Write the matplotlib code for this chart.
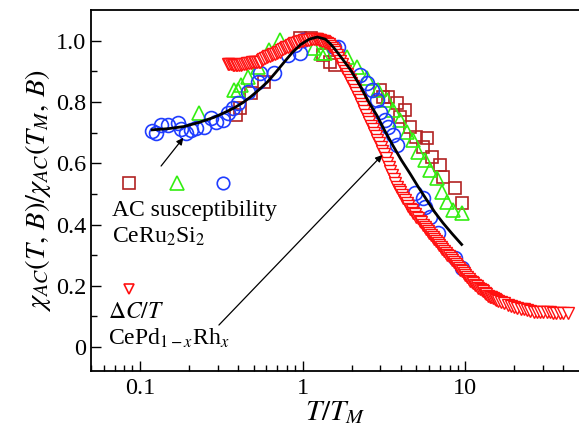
import numpy as np
import matplotlib
matplotlib.use("Agg")
import matplotlib.pyplot as plt
from matplotlib.ticker import FixedLocator, NullFormatter

plt.rcParams['font.family'] = ['Liberation Serif', 'DejaVu Serif']
plt.rcParams['mathtext.fontset'] = 'stix'

# CeRu2Si2, AC susceptibility (three fields)
sq_x = [0.39, 0.41, 0.48, 0.58, 0.97, 1.12, 1.33, 1.48, 1.59, 3.0, 3.13, 3.36,
        3.81, 3.97, 4.27, 4.58, 5.0, 5.5, 5.8, 6.2, 7.0, 7.3, 8.6, 9.6]
sq_y = [0.758, 0.78, 0.83, 0.866, 1.01, 1.01, 0.954, 0.93, 0.92, 0.84, 0.817, 0.817,
        0.797, 0.752, 0.775, 0.719, 0.686, 0.654, 0.683, 0.62, 0.595, 0.556, 0.52, 0.47]

tri_x = [0.23, 0.378, 0.40, 0.42, 0.46, 0.53, 0.62, 0.73, 1.17, 1.29, 1.38, 1.88,
         2.17, 2.5, 2.92, 3.3, 3.6, 3.97, 4.4, 4.77, 5.1, 5.65, 6.06, 6.7,
         7.2, 7.7, 8.4, 9.6]
tri_y = [0.765, 0.84, 0.84, 0.856, 0.88, 0.915, 0.97, 1.003, 0.977, 0.96, 0.96, 0.948,
         0.915, 0.879, 0.84, 0.807, 0.775, 0.742, 0.703, 0.676, 0.637, 0.61, 0.578, 0.552,
         0.507, 0.474, 0.448, 0.438]

circ_x = [0.118, 0.126, 0.135, 0.149, 0.172, 0.180, 0.193, 0.206, 0.222, 0.248,
          0.274, 0.294, 0.324, 0.348, 0.373, 0.40, 0.46, 0.53, 0.55, 0.665, 0.81,
          0.90, 0.97, 1.01, 1.55, 1.64, 2.26, 2.5, 2.68, 2.87, 3.0, 3.22, 3.36,
          3.6, 3.81, 4.9, 5.5, 5.65, 6.06, 6.8, 8.6, 9.5]
circ_y = [0.706, 0.70, 0.725, 0.725, 0.732, 0.712, 0.70, 0.709, 0.716, 0.719,
          0.748, 0.735, 0.742, 0.765, 0.781, 0.797, 0.833, 0.866, 0.895, 0.895, 0.954,
          0.987, 0.96, 1.003, 0.98, 0.98, 0.889, 0.863, 0.84, 0.807, 0.768, 0.742, 0.719,
          0.693, 0.66, 0.503, 0.487, 0.458, 0.425, 0.372, 0.29, 0.258]

# CePd1-xRhx, specific heat
dc_x = [0.347, 0.355, 0.363, 0.372, 0.380, 0.389, 0.398, 0.407, 0.417, 0.427,
        0.437, 0.447, 0.457, 0.468, 0.479, 0.490, 0.501, 0.513, 0.525, 0.537,
        0.550, 0.562, 0.575, 0.589, 0.603, 0.617, 0.631, 0.646, 0.661, 0.676,
        0.692, 0.708, 0.724, 0.741, 0.759, 0.776, 0.794, 0.813, 0.832, 0.851,
        0.871, 0.891, 0.912, 0.933, 0.955, 0.977, 1.000, 1.023, 1.047, 1.072,
        1.096, 1.122, 1.148, 1.175, 1.202, 1.230, 1.259, 1.288, 1.318, 1.349,
        1.380, 1.413, 1.445, 1.479, 1.514, 1.549, 1.585, 1.622, 1.660, 1.698,
        1.738, 1.778, 1.820, 1.862, 1.905, 1.950, 1.995, 2.042, 2.089, 2.138,
        2.188, 2.239, 2.291, 2.344, 2.399, 2.455, 2.512, 2.570, 2.630, 2.692,
        2.754, 2.818, 2.884, 2.951, 3.020, 3.090, 3.162, 3.236, 3.311, 3.388,
        3.467, 3.548, 3.631, 3.715, 3.802, 3.890, 3.981, 4.074, 4.169, 4.266,
        4.365, 4.467, 4.571, 4.677, 4.786, 4.898, 5.012, 5.129, 5.248, 5.370,
        5.495, 5.623, 5.754, 5.888, 6.026, 6.166, 6.310, 6.457, 6.607, 6.761,
        6.918, 7.079, 7.244, 7.413, 7.586, 7.762, 7.943, 8.128, 8.318, 8.511,
        8.710, 8.913, 9.120, 9.333, 9.550, 9.772, 10.00, 10.23, 10.47, 10.72,
        10.96, 11.22, 11.48, 11.75, 12.02, 12.30, 12.59, 12.88, 13.18, 13.49,
        13.80, 14.13, 14.45, 14.79, 15.14, 15.49, 15.85, 16.60, 17.38, 18.20,
        19.05, 19.95, 20.89, 21.88, 22.91, 23.99, 25.12, 26.30, 27.54, 28.84,
        30.20, 31.62, 33.11, 34.67, 36.31, 38.02, 39.81, 42.66]
dc_y = [0.925, 0.924, 0.923, 0.922, 0.921, 0.920, 0.920, 0.921, 0.922, 0.923,
        0.924, 0.925, 0.926, 0.927, 0.928, 0.929, 0.930, 0.931, 0.931, 0.932,
        0.932, 0.936, 0.939, 0.943, 0.946, 0.949, 0.951, 0.953, 0.955, 0.958,
        0.960, 0.962, 0.964, 0.968, 0.972, 0.975, 0.978, 0.981, 0.984, 0.987,
        0.989, 0.991, 0.993, 0.995, 0.997, 0.999, 1.000, 1.001, 1.001, 1.002,
        1.003, 1.004, 1.004, 1.005, 1.005, 1.004, 1.003, 1.002, 1.000, 0.998,
        0.996, 0.992, 0.988, 0.982, 0.976, 0.969, 0.962, 0.952, 0.942, 0.933,
        0.923, 0.912, 0.902, 0.892, 0.882, 0.872, 0.862, 0.851, 0.840, 0.828,
        0.816, 0.805, 0.793, 0.782, 0.770, 0.758, 0.746, 0.734, 0.722, 0.711,
        0.699, 0.688, 0.676, 0.665, 0.653, 0.641, 0.629, 0.616, 0.602, 0.589,
        0.576, 0.562, 0.549, 0.536, 0.523, 0.514, 0.505, 0.497, 0.488, 0.479,
        0.470, 0.461, 0.452, 0.446, 0.439, 0.433, 0.426, 0.420, 0.413, 0.407,
        0.400, 0.393, 0.386, 0.380, 0.373, 0.367, 0.360, 0.354, 0.347, 0.341,
        0.334, 0.328, 0.321, 0.315, 0.308, 0.302, 0.296, 0.290, 0.284, 0.278,
        0.271, 0.265, 0.259, 0.253, 0.247, 0.241, 0.235, 0.228, 0.222, 0.217,
        0.212, 0.208, 0.203, 0.199, 0.194, 0.190, 0.186, 0.182, 0.177, 0.173,
        0.168, 0.165, 0.162, 0.160, 0.157, 0.155, 0.152, 0.147, 0.143, 0.138,
        0.134, 0.131, 0.128, 0.125, 0.123, 0.120, 0.118, 0.116, 0.115, 0.114,
        0.113, 0.113, 0.113, 0.112, 0.112, 0.112, 0.112, 0.112]

# model curve
fit_x = [0.119, 0.15, 0.187, 0.23, 0.286, 0.33, 0.378, 0.43, 0.48, 0.54, 0.61,
         0.68, 0.765, 0.86, 0.97, 1.1, 1.23, 1.38, 1.48, 1.55, 1.76, 1.97, 2.26,
         2.55, 2.87, 3.2, 3.6, 4.05, 4.58, 5.15, 5.8, 6.5, 7.3, 8.3, 9.5]
fit_y = [0.709, 0.713, 0.72, 0.733, 0.75, 0.765, 0.78, 0.798, 0.817, 0.84, 0.866,
         0.895, 0.928, 0.96, 0.987, 1.005, 1.012, 1.005, 0.99, 0.978, 0.94, 0.905, 0.852,
         0.80, 0.755, 0.706, 0.657, 0.61, 0.566, 0.522, 0.48, 0.44, 0.405, 0.37, 0.335]

fig = plt.figure(figsize=(5.79, 4.37), dpi=100)
ax = fig.add_axes([0.157, 0.151, 0.843, 0.826])

ax.plot(sq_x, sq_y, 's', ms=8, mfc='none', mec='#b22222', mew=1.2)
ax.plot(tri_x, tri_y, '^', ms=10, mfc='none', mec='#33ee11', mew=1.2)
ax.plot(circ_x, circ_y, 'o', ms=10, mfc='none', mec='#1f3dff', mew=1.2)
ax.plot(dc_x, dc_y, 'v', ms=9, mfc='white', mec='#ff1010', mew=1.0)
ax.plot(fit_x, fit_y, '-', color='black', lw=2.0)

# legend-like annotations
ax.plot([0.0863], [0.536], 's', ms=8, mfc='none', mec='#b22222', mew=1.2)
ax.plot([0.17], [0.536], '^', ms=10, mfc='none', mec='#33ee11', mew=1.2)
ax.plot([0.324], [0.536], 'o', ms=9, mfc='none', mec='#1f3dff', mew=1.2)
ax.plot([0.0863], [0.19], 'v', ms=7, mfc='white', mec='#ff1010', mew=1.2)

ax.text(0.067, 0.428, 'AC susceptibility', fontsize=17)
ax.text(0.067, 0.341, r'CeRu$_2$Si$_2$', fontsize=17)
ax.text(0.0634, 0.095, r'$\Delta C/T$', fontsize=17)
ax.text(0.0634, 0.007, r'CePd$_{1-x}$Rh$_x$', fontsize=17)

ax.annotate('', xy=(0.185, 0.683), xytext=(0.135, 0.591),
            arrowprops=dict(arrowstyle='-|>', color='black', lw=0.9,
                            mutation_scale=10, shrinkA=0, shrinkB=0))
ax.annotate('', xy=(3.09, 0.627), xytext=(0.306, 0.072),
            arrowprops=dict(arrowstyle='-|>', color='black', lw=0.9,
                            mutation_scale=10, shrinkA=0, shrinkB=0))

ax.set_xscale('log')
ax.set_xlim(0.05, 50)
ax.set_ylim(-0.078, 1.10)
ax.set_xticks([0.1, 1, 10])
ax.set_xticklabels(['0.1', '1', '10'])
ax.xaxis.set_minor_locator(FixedLocator([0.05, 0.06, 0.07, 0.08, 0.09, 0.2, 0.3, 0.4, 0.5, 0.6, 0.7, 0.8, 0.9,
                                         2, 3, 4, 5, 6, 7, 8, 9, 20, 30, 40]))
ax.xaxis.set_minor_formatter(NullFormatter())
ax.set_yticks([0, 0.2, 0.4, 0.6, 0.8, 1.0])
ax.set_yticklabels(['0', '0.2', '0.4', '0.6', '0.8', '1.0'])
ax.yaxis.set_minor_locator(FixedLocator([0.1, 0.3, 0.5, 0.7, 0.9]))
ax.tick_params(which='both', direction='in', top=False, right=False, labelsize=17.5, width=1.0)
ax.tick_params(which='major', length=7)
ax.tick_params(which='minor', length=4)
ax.tick_params(axis='x', pad=5)
ax.spines['right'].set_visible(False)
for s in ['left', 'bottom', 'top']:
    ax.spines[s].set_linewidth(1.3)

ax.set_xlabel(r'$T/T_M$', fontsize=21, labelpad=0)
ax.set_ylabel(r'$\chi_{AC}(T,\,B)/\chi_{AC}(T_M,\,B)$', fontsize=20.5, labelpad=2)

plt.savefig('out.png', dpi=100)
